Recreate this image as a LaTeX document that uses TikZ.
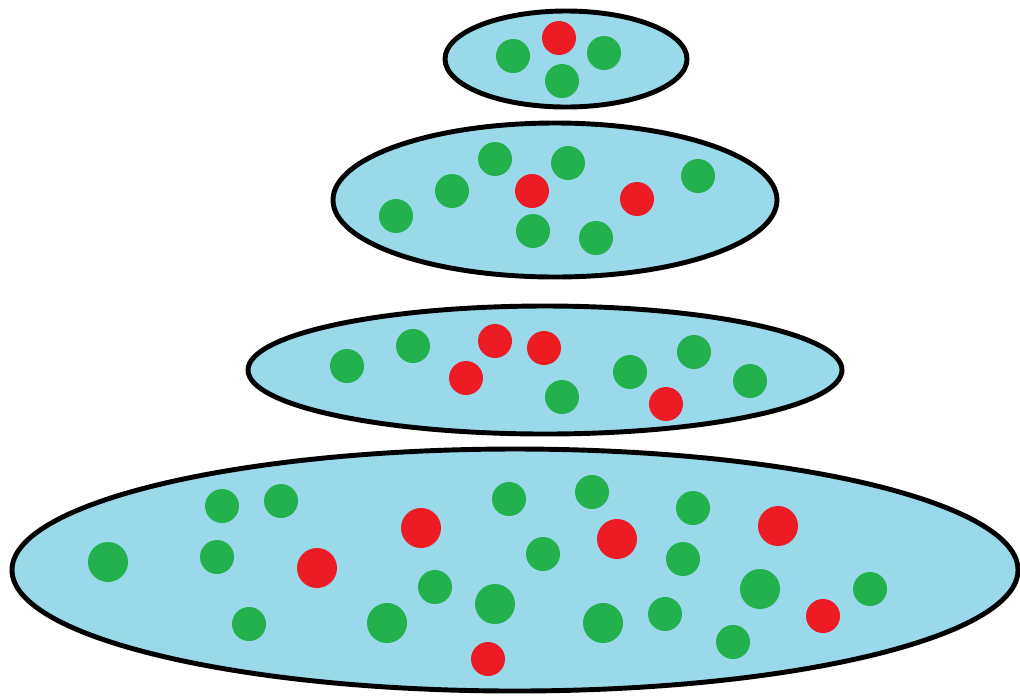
\documentclass[tikz,border=0pt]{standalone}
\usepackage{tikz}
\usepackage{xcolor}
\definecolor{LayerBlue}{HTML}{99D9EA}
\definecolor{DotGreen}{HTML}{22B14C}
\definecolor{DotRed}{HTML}{ED1C24}

\begin{document}
\begin{tikzpicture}[x=0.02cm,y=-0.02cm,
    layer/.style={fill=LayerBlue,draw=black,line width=2.8pt}]
  \useasboundingbox (0,0) rectangle (1020,698);
  % layers, top to bottom
  \foreach \cx/\cy/\rx/\ry in {566/59/121/48,555/200/222/77,545/370/297/64,515/570/503/121}
    \draw[layer] (\cx,\cy) ellipse ({\rx} and {\ry});
  % green dots
  \foreach \x/\y/\r in {513/56/17,604/53/17,562/81/17,
      495/159/17,568/163/17,452/191/17,698/176/17,396/216/17,533/231/17,596/238/17,
      347/366/17,413/346/17,562/397/17,630/372/17,694/352/17,750/381/17,
      222/506/17,281/501/17,108/562/20,217/557/17,249/624/17,387/623/20,435/587/17,
      495/604/20,509/499/17,592/492/17,543/554/17,603/623/20,665/614/17,693/508/17,
      683/559/17,760/589/20,733/642/17,870/589/17}
    \fill[DotGreen] (\x,\y) circle (\r);
  % red dots
  \foreach \x/\y/\r in {559/38/17,
      532/191/17,637/199/17,
      495/341/17,544/348/17,466/378/17,666/404/17,
      317/568/20,421/528/20,617/539/20,488/659/17,778/526/20,823/616/17}
    \fill[DotRed] (\x,\y) circle (\r);
\end{tikzpicture}
\end{document}
